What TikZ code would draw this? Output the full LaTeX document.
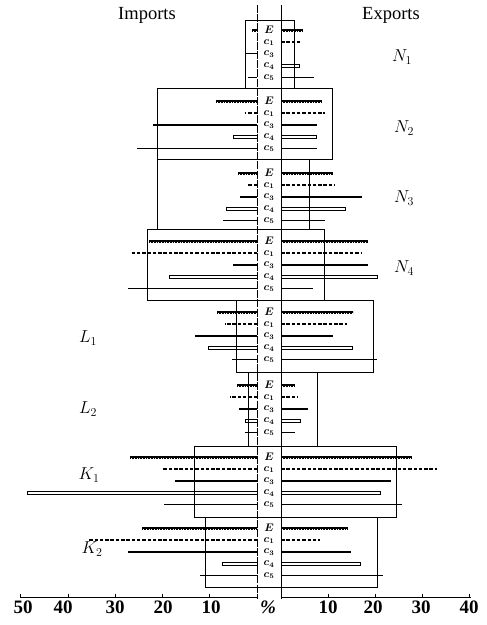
\documentclass[tikz,border=0pt]{standalone}
\usepackage{fontspec}
\setmainfont{Liberation Serif}
\newcommand\barE[3]{%
  \ifdim #1pt<257pt \draw[ecore] (#1,#3) -- (257,#3); \draw[etick] (#1,#3) -- (257,#3);\fi
  \ifdim #2pt>281pt \draw[ecore] (281,#3) -- (#2,#3); \draw[etick] (281,#3) -- (#2,#3);\fi}
\newcommand\barCi[3]{%
  \ifdim #1pt<257pt \draw[aline] (257,#3) -- (#1,#3);\fi
  \ifdim #2pt>281pt \draw[aline] (281,#3) -- (#2,#3);\fi}
\newcommand\barCs[3]{%
  \ifdim #1pt<257pt \draw[sline] (#1,#3) -- (257,#3);\fi
  \ifdim #2pt>281pt \draw[sline] (281,#3) -- (#2,#3);\fi}
\newcommand\barCd[3]{%
  \ifdim #1pt<257pt \draw[dline] (#1,#3-1.4) rectangle (257,#3+1.4);\fi
  \ifdim #2pt>281pt \draw[dline] (281,#3-1.4) rectangle (#2,#3+1.4);\fi}
% group: y, then Eleft,Eright, c1l,c1r, c3l,c3r, c4l,c4r, then c5l,c5r,yc5
\newcommand\grp[9]{%
  \barE{#2}{#3}{#1}%
  \barCi{#4}{#5}{#1+12}%
  \barCs{#6}{#7}{#1+24}%
  \barCd{#8}{#9}{#1+36}%
  \node[rowlab] at (269,#1) {$E$};
  \node[rowlab] at (269,#1+12.5) {$c_1$};
  \node[rowlab] at (269,#1+24) {$c_3$};
  \node[rowlab] at (269,#1+36) {$c_4$};
  \node[rowlab] at (269,#1+47.5) {$c_5$};
  \grpend}
\newcommand\grpend[3]{\barCs{#1}{#2}{#3}}
\begin{document}
\begin{tikzpicture}[x=1pt,y=-1pt,
  ecore/.style={line width=1.5pt},
  etick/.style={line width=3pt, dash pattern=on 0.7pt off 0.9pt},
  aline/.style={line width=1.1pt, dash pattern=on 3.5pt off 1.8pt},
  sline/.style={line width=1.1pt},
  dline/.style={line width=0.7pt},
  box/.style={line width=0.9pt},
  rowlab/.style={font=\fontsize{10.5}{12}\selectfont\boldmath, inner sep=0pt},
  grplab/.style={font=\fontsize{17.5}{20}\selectfont, inner sep=0pt},
  head/.style={font=\fontsize{18.5}{22}\selectfont, inner sep=0pt},
  tick/.style={font=\fontsize{19}{22}\selectfont\bfseries, inner sep=0pt}]
\useasboundingbox (0,0) rectangle (487,625);
\fill[white] (0,0) rectangle (487,625);
% headings
\node[head] (imp) at (147,15) {Imports};
\node[head] (exp) at (391,15) {Exports};
% boxes
\draw[box] (245,20) rectangle (294,88);
\draw[box] (245,53) -- (257,53);
\draw[box] (157,88) rectangle (332,159);
\draw[box] (157,159) rectangle (309,229);
\draw[box] (147,229) rectangle (324,300);
\draw[box] (236,300) rectangle (373,372);
\draw[box] (248,372) rectangle (317,446);
\draw[box] (194,446) rectangle (396,517);
\draw[box] (205,517) rectangle (377,587);
% column
\draw[line width=0.9pt, dash pattern=on 8pt off 1.2pt] (257,5) -- (257,599);
\draw[line width=0.9pt] (281,5) -- (281,599);
% groups
\grp{30}{252}{303}{257}{300}{257}{257}{257}{299}{248}{314}{77.5}
\grp{101}{216}{322}{245}{325}{153}{317}{233}{316}{137}{317}{148.5}
\grp{173}{238}{333}{248}{335}{240}{362}{226}{345}{223}{325}{220.5}
\grp{241}{149}{368}{130}{362}{233}{368}{169}{377}{128}{313}{288.5}
\grp{312}{217}{353}{225}{347}{195}{333}{208}{352}{232}{377}{359.5}
\grp{385}{237}{295}{230}{298}{239}{308}{245}{300}{245}{295}{432.5}
\grp{457}{130}{411}{163}{437}{175}{391}{27}{380}{164}{402}{504.5}
\grp{528}{142}{347}{88}{320}{128}{351}{222}{360}{200}{383}{575.5}
% group labels
\node[grplab] (n1) at (402,57) {$N_1$};
\node[grplab] (n2) at (404,128) {$N_2$};
\node[grplab] (n3) at (404,198) {$N_3$};
\node[grplab] (n4) at (404,268) {$N_4$};
\node[grplab] (l1) at (88,338) {$L_1$};
\node[grplab] (l2) at (88,409) {$L_2$};
\node[grplab] (k1) at (89,475) {$K_1$};
\node[grplab] (k2) at (92,549) {$K_2$};
% axis
\draw[line width=0.9pt] (20,597) -- (257,597);
\draw[line width=0.9pt] (281,597) -- (471,597);
\foreach \x in {20,68,115,162,209,328,375,422,469}
  \draw[line width=0.8pt] (\x,597) -- (\x,594);
\node[tick] at (23,607) {50};
\node[tick] at (63,607) {40};
\node[tick] at (115,607) {30};
\node[tick] at (163,607) {20};
\node[tick] at (211,607) {10};
\node[tick] at (268,607) {\textit{\%}};
\node[tick] at (328,607) {10};
\node[tick] at (373,607) {20};
\node[tick] at (421,607) {30};
\node[tick] at (469,607) {40};
\end{tikzpicture}
\end{document}
